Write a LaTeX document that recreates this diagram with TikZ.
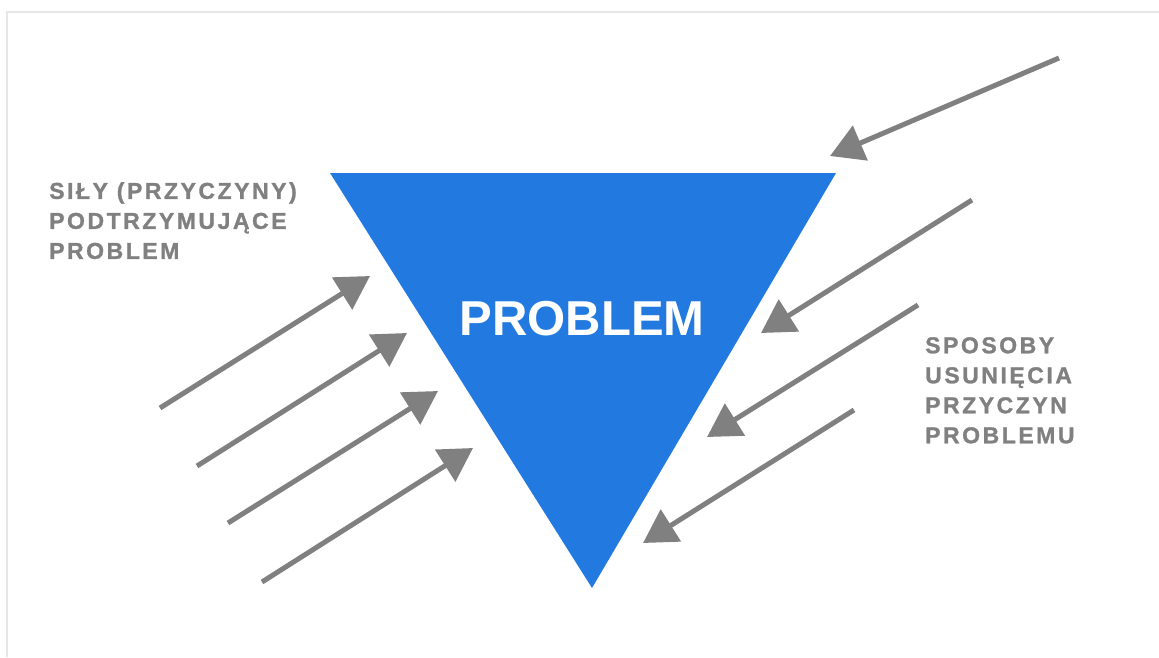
\documentclass[tikz,border=0pt]{standalone}
\usepackage{fontspec}
\setmainfont{Liberation Sans}
\newfontfamily\spacedfont[LetterSpace=11, BoldFeatures={FakeBold=1.2}]{Liberation Sans}
\usetikzlibrary{arrows.meta}
\tikzset{
  forceln/.style={-{Triangle[length=33pt,width=37pt]}, line width=5pt, forcegray},
  labeltxt/.style={inner sep=0pt, align=left, forcegray,
    font=\spacedfont\bfseries\fontsize{23}{30}\selectfont},
  frameln/.style={line width=2pt, framegray},
}
\definecolor{probblue}{RGB}{34,122,224}
\definecolor{forcegray}{RGB}{128,128,128}
\definecolor{framegray}{RGB}{230,230,230}

\begin{document}
\begin{tikzpicture}[x=1pt, y=-1pt]
    \useasboundingbox (0,0) rectangle (1159,657);
    \draw[frameln] (7,657) -- (7,12) -- (1159,12);
    % the triangle
    \coordinate (tleft) at (330,173);
    \coordinate (tright) at (836,173);
    \coordinate (tbottom) at (592,588);
    \fill[probblue] (tleft) -- (tright) -- (tbottom) -- cycle;
    \node[anchor=base, inner sep=0pt, white,
      font=\bfseries\fontsize{49}{49}\selectfont] (problem) at (582,335) {PROBLEM};
    % forces holding the problem
    \coordinate (hold1) at (160,408);  \coordinate (hold1tip) at (370,276);
    \coordinate (hold2) at (197,466);  \coordinate (hold2tip) at (407,333);
    \coordinate (hold3) at (228,523);  \coordinate (hold3tip) at (438,391);
    \coordinate (hold4) at (262,582);  \coordinate (hold4tip) at (473,448);
    \draw[forceln] (hold1) -- (hold1tip);
    \draw[forceln] (hold2) -- (hold2tip);
    \draw[forceln] (hold3) -- (hold3tip);
    \draw[forceln] (hold4) -- (hold4tip);
    % ways of removing the causes
    \coordinate (fix1) at (1059,58);  \coordinate (fix1tip) at (830,156);
    \coordinate (fix2) at (972,200);  \coordinate (fix2tip) at (761,333);
    \coordinate (fix3) at (918,305);  \coordinate (fix3tip) at (707,437);
    \coordinate (fix4) at (854,410);  \coordinate (fix4tip) at (643,543);
    \draw[forceln] (fix1) -- (fix1tip);
    \draw[forceln] (fix2) -- (fix2tip);
    \draw[forceln] (fix3) -- (fix3tip);
    \draw[forceln] (fix4) -- (fix4tip);
    \node[labeltxt, anchor=north west] (holdlabel) at (49,182)
      {SIŁY (PRZYCZYNY)\\PODTRZYMUJĄCE\\PROBLEM};
    \node[labeltxt, anchor=north west] (fixlabel) at (925,337)
      {SPOSOBY\\USUNIĘCIA\\PRZYCZYN\\PROBLEMU};
  \end{tikzpicture}
\end{document}
